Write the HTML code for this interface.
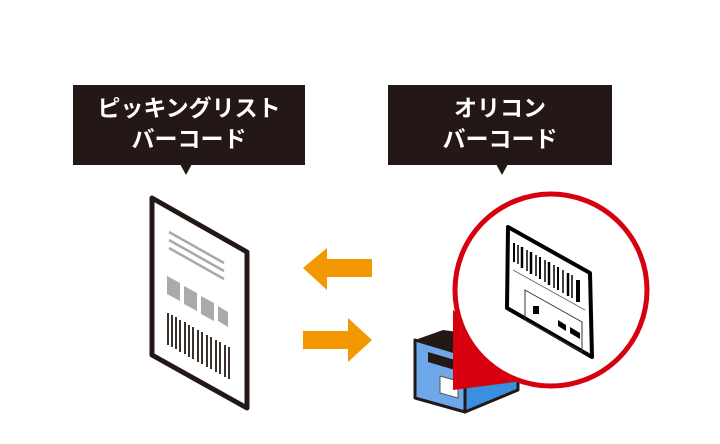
<!DOCTYPE html>
<html><head><meta charset="utf-8"><style>
html,body{margin:0;padding:0;background:#fff;}
body{width:720px;height:444px;overflow:hidden;position:relative;}
.lbl{position:absolute;background:#231815;color:#fff;font-family:"Liberation Sans","Noto Sans CJK JP",sans-serif;font-weight:bold;font-size:23px;line-height:31px;text-align:center;padding-top:8px;box-sizing:border-box;}
</style></head><body>
<div class="lbl" style="left:73px;top:85px;width:232px;height:80px;">ピッキングリスト<br>バーコード</div>
<div class="lbl" style="left:388px;top:85px;width:224px;height:80px;">オリコン<br>バーコード</div>
<svg width="720" height="444" style="position:absolute;left:0;top:0">
<polygon points="180,164 192,164 186,175" fill="#231815"/>
<polygon points="496,164 508,164 502,175" fill="#231815"/>
<polygon points="152,198 247,252 247,408 152,355" fill="#fff" stroke="#231815" stroke-width="5" stroke-linejoin="round"/>
<g stroke="#aaa" stroke-width="2.5">
<line x1="169" y1="232" x2="224" y2="263"/><line x1="169" y1="240" x2="224" y2="271"/><line x1="169" y1="248" x2="224" y2="279"/>
</g>
<g fill="#aaa">
<polygon points="167,276 180,283 180,301 167,294"/>
<polygon points="184,286 197,293 197,311 184,304"/>
<polygon points="201,296 214,303 214,321 201,314"/>
<polygon points="218,306 228,312 228,327 218,321"/>
</g>
<g stroke="#231815" stroke-width="1.8">
<line x1="168" y1="313" x2="168" y2="345"/><line x1="172" y1="315" x2="172" y2="347"/><line x1="176" y1="317" x2="176" y2="349"/><line x1="180" y1="320" x2="180" y2="352"/><line x1="185" y1="322" x2="185" y2="354"/><line x1="189" y1="325" x2="189" y2="357"/><line x1="193" y1="327" x2="193" y2="359"/><line x1="198" y1="330" x2="198" y2="362"/><line x1="202" y1="332" x2="202" y2="364"/><line x1="207" y1="335" x2="207" y2="367"/><line x1="211" y1="337" x2="211" y2="369"/><line x1="216" y1="340" x2="216" y2="372"/><line x1="220" y1="342" x2="220" y2="374"/><line x1="225" y1="345" x2="225" y2="377"/><line x1="229" y1="347" x2="229" y2="379"/>
</g>
<polygon points="303,268 327,248 327,259 372,259 372,277 327,277 327,290" fill="#f39800"/>
<polygon points="372,340 348,318 348,331 303,331 303,349 348,349 348,362" fill="#f39800"/>
<polygon points="415,340 443,330 518,340 465,355" fill="#231815"/>
<polygon points="415,340 465,355 465,412 415,398" fill="#6fa8e8" stroke="#231815" stroke-width="3" stroke-linejoin="round"/>
<polygon points="465,355 518,340 518,390 465,412" fill="#3a8fe0" stroke="#231815" stroke-width="3" stroke-linejoin="round"/>
<polygon points="428,352 455,360 455,370 428,362" fill="#231815"/>
<polygon points="440,376 458,381 458,398 440,393" fill="#fff" stroke="#555" stroke-width="1"/>
<polygon points="453,310 453,390 545,378" fill="#d7000f"/>
<circle cx="551" cy="290" r="96" fill="#fff" stroke="#d7000f" stroke-width="5"/>
<polygon points="508,227 590,273 592,357 507,308" fill="#fff" stroke="#000" stroke-width="4" stroke-linejoin="round"/>
<g stroke="#000">
<line x1="514" y1="243" x2="514" y2="262" stroke-width="2"/><line x1="518" y1="245" x2="518" y2="264" stroke-width="1.5"/><line x1="522" y1="247" x2="522" y2="268" stroke-width="2.5"/><line x1="527" y1="250" x2="527" y2="271" stroke-width="1.5"/><line x1="531" y1="252" x2="531" y2="274" stroke-width="2.5"/><line x1="536" y1="255" x2="536" y2="276" stroke-width="1.5"/><line x1="540" y1="257" x2="540" y2="279" stroke-width="2"/><line x1="545" y1="260" x2="545" y2="282" stroke-width="1.5"/><line x1="549" y1="262" x2="549" y2="285" stroke-width="2.5"/><line x1="554" y1="265" x2="554" y2="288" stroke-width="1.5"/><line x1="558" y1="267" x2="558" y2="290" stroke-width="2"/><line x1="563" y1="270" x2="563" y2="293" stroke-width="1.5"/><line x1="568" y1="273" x2="568" y2="296" stroke-width="2.5"/><line x1="572" y1="275" x2="572" y2="298" stroke-width="1.5"/><line x1="578" y1="280" x2="578" y2="302" stroke-width="4"/>
<line x1="513" y1="270" x2="585" y2="310" stroke-width="1" stroke="#666"/>
</g>
<polygon points="525,290 582,322 582,352 525,320" fill="none" stroke="#333" stroke-width="1"/>
<rect x="533" y="306" width="6" height="8" fill="#000"/>
<polygon points="558,320 566,325 566,331 558,326" fill="#000"/>
<polygon points="570,327 580,333 580,339 570,333" fill="#000"/>
</svg>
</body></html>
